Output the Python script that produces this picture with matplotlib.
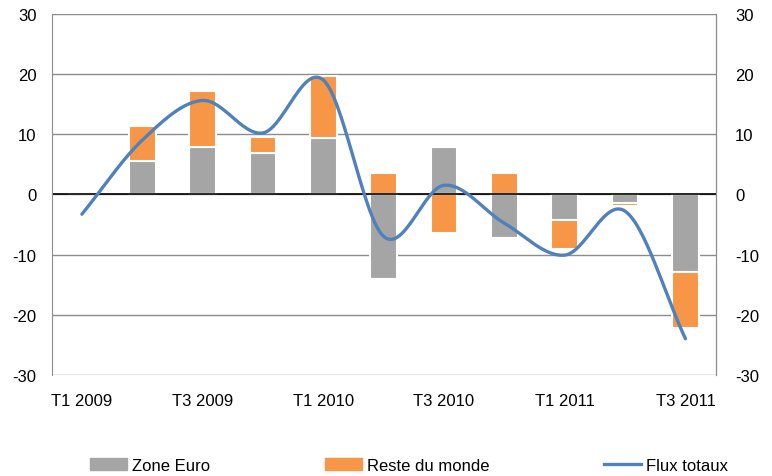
import numpy as np
import matplotlib
matplotlib.use("Agg")
import matplotlib.pyplot as plt
from matplotlib.lines import Line2D
from matplotlib.patches import Patch

plt.rcParams["font.family"] = ["Liberation Sans", "DejaVu Sans"]
plt.rcParams["axes.unicode_minus"] = False

quarters = ["T1 2009", "T2 2009", "T3 2009", "T4 2009", "T1 2010", "T2 2010",
            "T3 2010", "T4 2010", "T1 2011", "T2 2011", "T3 2011"]
zone_euro = [0.4, 5.5, 7.8, 6.9, 9.4, -14.0, 7.8, -7.3, -4.2, -1.4, -12.9]
reste_monde = [0.0, 5.9, 9.3, 2.6, 10.2, 3.6, -6.5, 3.6, -4.9, -0.5, -9.3]
flux_totaux = [-3.3, 9.0, 15.6, 10.2, 19.0, -7.0, 1.5, -4.8, -10.1, -2.8, -24.0]

GRAY = "#A5A5A5"
ORANGE = "#F79646"
BLUE = "#4F81BD"
GRID = "#8C8C8C"


def catmull_rom(x, y, n=30):
    # smoothed line like a spreadsheet "smooth line" option
    x = np.asarray(x, float); y = np.asarray(y, float)
    px = np.concatenate([[2*x[0]-x[1]], x, [2*x[-1]-x[-2]]])
    py = np.concatenate([[2*y[0]-y[1]], y, [2*y[-1]-y[-2]]])
    xs, ys = [], []
    t = np.linspace(0, 1, n, endpoint=False)
    for i in range(1, len(px)-2):
        for arr, out in ((px, xs), (py, ys)):
            a, b, c, d = arr[i-1], arr[i], arr[i+1], arr[i+2]
            out.extend(0.5*((2*b) + (-a+c)*t + (2*a-5*b+4*c-d)*t**2
                            + (-a+3*b-3*c+d)*t**3))
    xs.append(x[-1]); ys.append(y[-1])
    return np.array(xs), np.array(ys)


x = np.arange(len(quarters))
ze = np.array(zone_euro); rm = np.array(reste_monde)
fig = plt.figure(figsize=(7.72, 4.77), dpi=100)
ax = fig.add_axes([0.067, 0.212, 0.86, 0.757])

# stacked bars: positive and negative parts stacked separately
pos_base = np.zeros(len(x)); neg_base = np.zeros(len(x))
for vals, col in ((ze, GRAY), (rm, ORANGE)):
    p = np.where(vals > 0, vals, 0); n = np.where(vals < 0, vals, 0)
    ax.bar(x, p, bottom=pos_base, width=0.44, color=col, edgecolor="white",
           linewidth=1.5, zorder=2)
    ax.bar(x, n, bottom=neg_base, width=0.44, color=col, edgecolor="white",
           linewidth=1.5, zorder=2)
    pos_base += p; neg_base += n

sx, sy = catmull_rom(x, flux_totaux)
ax.plot(sx, sy, color=BLUE, lw=2.4, zorder=3, solid_capstyle="round")

ax.set_xlim(-0.5, len(x)-0.5)
ax.set_ylim(-30, 30)
ax.set_yticks(range(-30, 31, 10))
ax.yaxis.grid(True, color=GRID, lw=1, zorder=0)
ax.set_axisbelow(True)
ax.axhline(0, color="black", lw=1.2, zorder=2.5)
ax.set_xticks(x[::2])
ax.set_xticklabels(quarters[::2])
ax.tick_params(axis="both", length=0, labelsize=12, colors="black")
ax.tick_params(axis="x", pad=13)
ax.tick_params(axis="y", pad=11)
for s in ("top", "bottom"):
    ax.spines[s].set_visible(False)
for s in ("left", "right"):
    ax.spines[s].set_color(GRID)

ax2 = ax.twinx()
ax2.set_ylim(-30, 30)
ax2.set_yticks(range(-30, 31, 10))
ax2.tick_params(axis="y", length=0, labelsize=12, pad=14)
for s in ("top", "bottom", "left"):
    ax2.spines[s].set_visible(False)
ax2.spines["right"].set_color(GRID)

handles = [Patch(color=GRAY, label="Zone Euro"),
           Patch(color=ORANGE, label="Reste du monde"),
           Line2D([], [], color=BLUE, lw=2.4, label="Flux totaux")]
fig.legend(handles=handles, loc="lower center", ncol=3, frameon=False,
           fontsize=12, bbox_to_anchor=(0.53, -0.025), columnspacing=6.9,
           handlelength=2.2, handletextpad=0.3)

fig.savefig("out.png", dpi=100)
